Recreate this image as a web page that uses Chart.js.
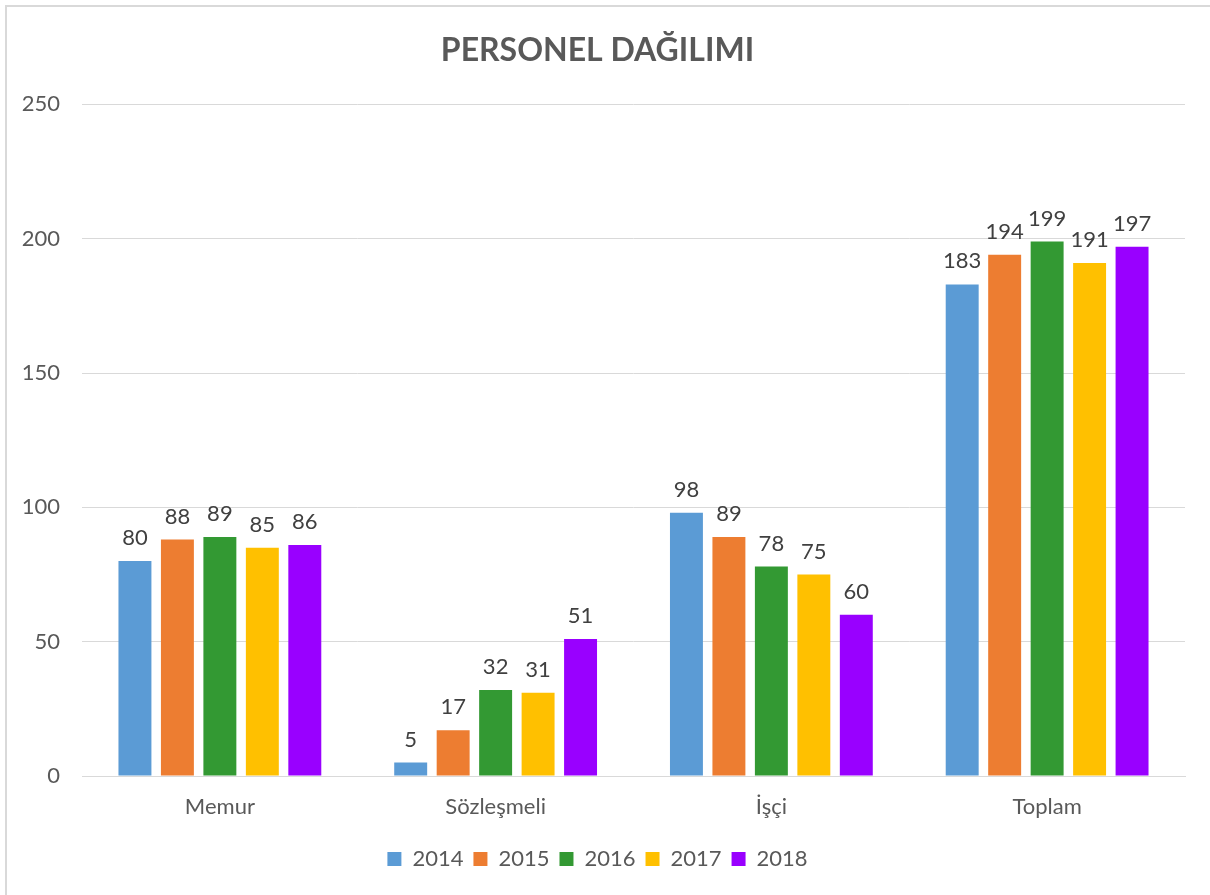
<!DOCTYPE html>
<html>
<head>
<meta charset="utf-8">
<script src="https://cdn.jsdelivr.net/npm/chart.js@4"></script>
<style>
  body { margin: 0; background: #fff; }
  #frame { position: absolute; left: 5px; top: 5px; width: 1205px; height: 890px;
           border-left: 2px solid #d9d9d9; border-top: 2px solid #d9d9d9; box-sizing: border-box; }
  #wrap { position: absolute; left: 0; top: 0; width: 1210px; height: 895px; }
</style>
</head>
<body>
<div id="frame"></div>
<div id="wrap"><canvas id="personelChart"></canvas></div>
<script>
// Veriler
const kategoriler = ['Memur', 'Sözleşmeli', 'İşçi', 'Toplam'];
const yillar = ['2014', '2015', '2016', '2017', '2018'];
const renkler = ['#5B9BD5', '#ED7D31', '#339933', '#FFC000', '#9900FF'];
const v2014 = [80, 5, 98, 183];
const v2015 = [88, 17, 89, 194];
const v2016 = [89, 32, 78, 199];
const v2017 = [85, 31, 75, 191];
const v2018 = [86, 51, 60, 197];
const yTicks = [0, 50, 100, 150, 200, 250];

const seriler = [v2014, v2015, v2016, v2017, v2018];
const FONT = 'Lato, "Open Sans", sans-serif';
const GRI = '#595959';

// Bar etiketleri
const degerEtiketi = {
    id: 'degerEtiketi',
    afterDatasetsDraw(chart) {
        const c = chart.ctx;
        c.save();
        c.font = '22px ' + FONT;
        c.fillStyle = '#404040';
        c.textAlign = 'center';
        c.textBaseline = 'bottom';
        chart.data.datasets.forEach((ds, i) => {
            chart.getDatasetMeta(i).data.forEach((bar, j) => {
                c.fillText(ds.data[j], bar.x, bar.y - 12);
            });
        });
        c.restore();
    }
};

const ctx = document.getElementById('personelChart').getContext('2d');
const personelChart = new Chart(ctx, {
    type: 'bar',
    data: {
        labels: kategoriler,
        datasets: yillar.map((y, i) => ({
            label: y,
            data: seriler[i],
            backgroundColor: renkler[i],
            categoryPercentage: 0.77,
            barPercentage: 0.776
        }))
    },
    options: {
        responsive: true,
        maintainAspectRatio: false,
        animation: false,
        layout: { padding: { left: 10, right: 25, top: 0, bottom: 15 } },
        plugins: {
            title: {
                display: true,
                text: 'PERSONEL DAĞILIMI',
                color: GRI,
                font: { family: FONT, size: 32, weight: 'bold' },
                padding: { top: 31, bottom: 35 }
            },
            legend: {
                position: 'bottom',
                labels: {
                    color: GRI,
                    font: { family: FONT, size: 22 },
                    boxWidth: 14,
                    boxHeight: 14,
                    padding: 10
                }
            },
            tooltip: { enabled: false }
        },
        scales: {
            x: {
                grid: { display: false, drawTicks: false },
                border: { display: true, color: '#d9d9d9' },
                ticks: { color: GRI, font: { family: FONT, size: 22 }, padding: 18 },
                afterFit(s) { s.height = 62; }
            },
            y: {
                min: 0,
                max: 250,
                afterBuildTicks(s) { s.ticks = yTicks.map(v => ({ value: v })); },
                grid: { color: '#d9d9d9', drawTicks: false },
                border: { display: false },
                ticks: { color: GRI, font: { family: FONT, size: 22 }, padding: 22 },
                afterFit(s) { s.width = 72; }
            }
        }
    },
    plugins: [degerEtiketi]
});
</script>
</body>
</html>
